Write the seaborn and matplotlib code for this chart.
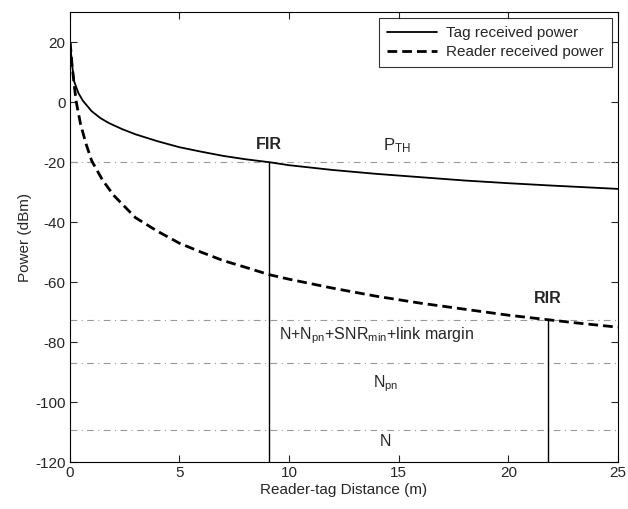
import numpy as np
import pandas as pd
import matplotlib
matplotlib.use("Agg")
import matplotlib.pyplot as plt
import seaborn as sns

# values
tag_dist = [0.02, 0.1, 0.2, 0.4, 0.6, 1.0, 1.4, 1.8, 2.4, 3.0, 4.0, 5.0, 6.0, 7.0, 8.0, 9.1,
            10.0, 12.0, 14.0, 16.0, 18.0, 20.0, 22.0, 25.0]
tag_power = [20.0, 13.0, 7.0, 3.0, 0.5, -3.0, -5.3, -7.0, -9.0, -10.7, -13.0, -15.0, -16.5,
             -17.9, -19.0, -20.0, -21.0, -22.6, -23.9, -25.0, -26.1, -27.0, -27.8, -28.9]

reader_dist = [0.02, 0.1, 0.2, 0.3, 0.5, 0.75, 1.0, 1.5, 2.0, 3.0, 4.0, 5.0, 6.0, 7.0, 8.0,
               9.1, 10.0, 12.0, 14.0, 16.0, 18.0, 20.0, 21.8, 23.0, 25.0]
reader_power = [20.0, 13.0, 6.0, 0.0, -7.5, -14.0, -19.5, -26.0, -31.0, -38.5, -43.0, -47.0,
                -50.0, -52.8, -55.0, -57.5, -59.0, -62.0, -64.7, -67.0, -69.0, -71.0, -72.5,
                -73.5, -75.0]

levels = [-20.0, -72.5, -87.0, -109.3]
fir_dist, fir_power = 9.1, -20.0
rir_dist, rir_power = 21.8, -72.5

tag = pd.DataFrame({"d": tag_dist, "p": tag_power})
reader = pd.DataFrame({"d": reader_dist, "p": reader_power})

sns.set_style("white")
plt.rcParams["font.family"] = ["Liberation Sans", "DejaVu Sans"]
plt.rcParams["font.size"] = 11
plt.rcParams["axes.unicode_minus"] = False
plt.rcParams["mathtext.fontset"] = "custom"
plt.rcParams["mathtext.rm"] = "Liberation Sans"
plt.rcParams["mathtext.it"] = "Liberation Sans"

fig = plt.figure(figsize=(6.28, 5.09), dpi=100)
ax = fig.add_axes([0.111, 0.092, 0.873, 0.884])

# threshold levels
for lv in levels:
    ax.axhline(lv, color="#999999", lw=0.8, ls=(0, (6, 4, 1, 4)), zorder=1)

sns.lineplot(data=tag, x="d", y="p", ax=ax, color="black", lw=1.3,
             label="Tag received power", zorder=3)
sns.lineplot(data=reader, x="d", y="p", ax=ax, color="black", lw=2.0,
             ls=(0, (3.5, 1.8)), label="Reader received power", zorder=3)

ax.vlines([fir_dist, rir_dist], -120, [fir_power, rir_power], color="black", lw=1.0, zorder=2)

ax.text(fir_dist, -14, "FIR", ha="center", va="center", fontweight="bold", fontsize=11.5)
ax.text(rir_dist, -65.5, "RIR", ha="center", va="center", fontweight="bold", fontsize=11.5)
ax.text(14.9, -14.5, r"P$_{\mathregular{TH}}$", ha="center", va="center", fontsize=12)
ax.text(14.0, -78, r"N+N$_{\mathregular{pn}}$+SNR$_{\mathregular{min}}$+link margin",
        ha="center", va="center", fontsize=11.5)
ax.text(14.4, -94, r"N$_{\mathregular{pn}}$", ha="center", va="center", fontsize=11.5)
ax.text(14.4, -113, "N", ha="center", va="center", fontsize=11.5)

ax.set_xlim(0, 25)
ax.set_ylim(-120, 30)
ax.set_xticks([0, 5, 10, 15, 20, 25])
ax.set_yticks([-120, -100, -80, -60, -40, -20, 0, 20])
ax.set_xlabel("Reader-tag Distance (m)", labelpad=2)
ax.set_ylabel("Power (dBm)", labelpad=2)
ax.tick_params(direction="in", length=5, top=True, right=True, bottom=True, left=True,
               labelsize=11, width=0.8, pad=3)
for s in ax.spines.values():
    s.set_color("black")
    s.set_linewidth(0.8)

leg = ax.legend(loc="upper right", frameon=True, fancybox=False, fontsize=11,
                borderaxespad=0.4, handlelength=3.3, borderpad=0.5, labelspacing=0.35,
                handletextpad=0.6)
leg.get_frame().set_edgecolor("black")
leg.get_frame().set_linewidth(0.8)

fig.savefig("out.png", dpi=100)
